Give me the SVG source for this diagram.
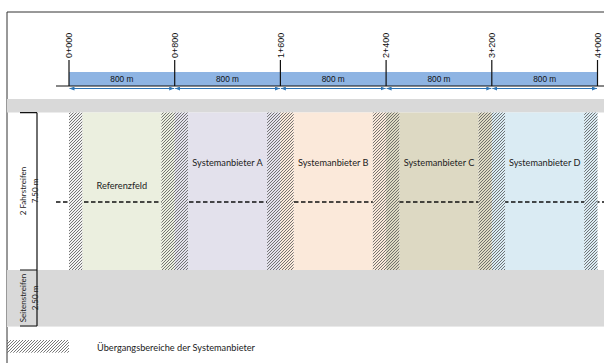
<svg xmlns="http://www.w3.org/2000/svg" width="604" height="363" viewBox="0 0 604 363">
<style>
.frame{stroke:#333;stroke-width:1;fill:none}
.tick{stroke:#111;stroke-width:1.2}
.tlabel{font-family:"Liberation Sans",Arial,sans-serif;font-size:9px;fill:#111}
.dim{font-family:"Liberation Sans",Arial,sans-serif;font-size:8.3px;fill:#111;text-anchor:middle}
.flabel{font-family:Lato,"Liberation Sans",sans-serif;font-size:9.2px;fill:#222;text-anchor:middle}
.side{font-family:Lato,"Liberation Sans",sans-serif;font-size:8px;fill:#222;text-anchor:middle}
.band{fill:#D9D9D9}
.hatch{fill:url(#hatch)}
.darr{stroke:#2E75B6;stroke-width:1.2;fill:none}
</style>
<defs>
<pattern id="hatch" patternUnits="userSpaceOnUse" x="0" y="0" width="3" height="3">
<path d="M-0.5,3.5 L3.5,-0.5 M-0.5,0.5 L0.5,-0.5 M2.5,3.5 L3.5,2.5" stroke="#555" stroke-width="0.8" fill="none"/>
</pattern>
<marker id="ah" markerWidth="5" markerHeight="4" refX="5" refY="2" orient="auto-start-reverse" markerUnits="userSpaceOnUse">
<path d="M0,0 L5,2 L0,4 Z" fill="#2E75B6"/>
</marker>
</defs>
<rect x="0" y="0" width="604" height="363" fill="#fff"/>
<path class="frame" d="M7,363 L7,12 L604,12"/>

<g id="bands">
<rect class="band" x="7" y="99" width="597" height="13.5"/>
<rect class="band" x="7" y="270" width="597" height="56"/>
<rect x="7" y="326" width="597" height="1" fill="#E9E9E9"/>
</g>

<g id="referenzfeld">
<rect x="82.3" y="112.5" width="79.1" height="157.5" fill="#EBEFDF"/>
<text class="flabel" x="121.8" y="188.5">Referenzfeld</text>
</g>
<g id="systemanbieter-a">
<rect x="188" y="112.5" width="79.1" height="157.5" fill="#E3E1EC"/>
<text class="flabel" x="227.5" y="166">Systemanbieter A</text>
</g>
<g id="systemanbieter-b">
<rect x="293.7" y="112.5" width="79.1" height="157.5" fill="#FBE9DA"/>
<text class="flabel" x="333.2" y="166">Systemanbieter B</text>
</g>
<g id="systemanbieter-c">
<rect x="399.4" y="112.5" width="79.1" height="157.5" fill="#DDD9C3"/>
<text class="flabel" x="439" y="166">Systemanbieter C</text>
</g>
<g id="systemanbieter-d">
<rect x="505.1" y="112.5" width="79.1" height="157.5" fill="#DAEBF3"/>
<text class="flabel" x="544.7" y="166">Systemanbieter D</text>
</g>

<g id="centerline">
<line x1="56" y1="202" x2="604" y2="202" stroke="#111" stroke-width="1.6" stroke-dasharray="4.5 2.5"/>
</g>

<g id="uebergangsbereiche">
<rect x="69" y="112.5" width="13.3" height="157.5" fill="#F2F2F2"/>
<rect class="hatch" x="69" y="112.5" width="13.3" height="157.5"/>
<rect x="161.4" y="112.5" width="13.3" height="157.5" fill="#EBEFDF"/>
<rect x="174.7" y="112.5" width="13.3" height="157.5" fill="#E3E1EC"/>
<rect class="hatch" x="161.4" y="112.5" width="26.6" height="157.5"/>
<rect x="267.1" y="112.5" width="13.3" height="157.5" fill="#E3E1EC"/>
<rect x="280.4" y="112.5" width="13.3" height="157.5" fill="#FBE9DA"/>
<rect class="hatch" x="267.1" y="112.5" width="26.6" height="157.5"/>
<rect x="372.8" y="112.5" width="13.3" height="157.5" fill="#FBE9DA"/>
<rect x="386.1" y="112.5" width="13.3" height="157.5" fill="#DDD9C3"/>
<rect class="hatch" x="372.8" y="112.5" width="26.6" height="157.5"/>
<rect x="478.5" y="112.5" width="13.3" height="157.5" fill="#DDD9C3"/>
<rect x="491.8" y="112.5" width="13.3" height="157.5" fill="#DAEBF3"/>
<rect class="hatch" x="478.5" y="112.5" width="26.6" height="157.5"/>
<rect x="584.2" y="112.5" width="13.3" height="157.5" fill="#DAEBF3"/>
<rect class="hatch" x="584.2" y="112.5" width="13.3" height="157.5"/>
</g>

<g id="stationing">
<rect x="69" y="72" width="528.5" height="14" fill="#8EB4E3"/>
<line x1="56" y1="86" x2="604" y2="86" stroke="#111" stroke-width="1.2"/>
<line class="tick" x1="69" y1="60" x2="69" y2="86"/>
<line class="tick" x1="174.7" y1="60" x2="174.7" y2="86"/>
<line class="tick" x1="280.4" y1="60" x2="280.4" y2="86"/>
<line class="tick" x1="386.1" y1="60" x2="386.1" y2="86"/>
<line class="tick" x1="491.8" y1="60" x2="491.8" y2="86"/>
<line class="tick" x1="597.5" y1="60" x2="597.5" y2="86"/>
<text class="tlabel" transform="translate(72.3,58) rotate(-90)">0+000</text>
<text class="tlabel" transform="translate(178,58) rotate(-90)">0+800</text>
<text class="tlabel" transform="translate(283.7,58) rotate(-90)">1+600</text>
<text class="tlabel" transform="translate(389.4,58) rotate(-90)">2+400</text>
<text class="tlabel" transform="translate(495.1,58) rotate(-90)">3+200</text>
<text class="tlabel" transform="translate(600.8,58) rotate(-90)">4+000</text>
<text class="dim" x="121.8" y="82">800 m</text>
<text class="dim" x="227.5" y="82">800 m</text>
<text class="dim" x="333.2" y="82">800 m</text>
<text class="dim" x="439" y="82">800 m</text>
<text class="dim" x="544.7" y="82">800 m</text>
</g>

<g id="connectors">
<line class="darr" x1="69.5" y1="88.5" x2="174.2" y2="88.5" marker-start="url(#ah)" marker-end="url(#ah)"/>
<line class="darr" x1="175.2" y1="88.5" x2="279.9" y2="88.5" marker-start="url(#ah)" marker-end="url(#ah)"/>
<line class="darr" x1="280.9" y1="88.5" x2="385.6" y2="88.5" marker-start="url(#ah)" marker-end="url(#ah)"/>
<line class="darr" x1="386.6" y1="88.5" x2="491.3" y2="88.5" marker-start="url(#ah)" marker-end="url(#ah)"/>
<line class="darr" x1="492.3" y1="88.5" x2="597" y2="88.5" marker-start="url(#ah)" marker-end="url(#ah)"/>
</g>

<g id="querschnitt">
<path d="M20,112.7 L37,112.7 M37,112.7 L37,326 M20,270 L37,270 M20,326 L37,326" stroke="#111" stroke-width="1.2" fill="none"/>
<text class="side" transform="translate(26,191) rotate(-90)">2 Fahrstreifen</text>
<text class="side" transform="translate(38,191) rotate(-90)">7.50 m</text>
<text class="side" transform="translate(26,298) rotate(-90)">Seitenstreifen</text>
<text class="side" transform="translate(38,298) rotate(-90)">2.50 m</text>
</g>

<g id="legende">
<rect class="hatch" x="7" y="340" width="62" height="12.7"/>
<text x="97" y="351" font-family="Lato,'Liberation Sans',sans-serif" font-size="9.2" fill="#222">Übergangsbereiche der Systemanbieter</text>
</g>
</svg>
